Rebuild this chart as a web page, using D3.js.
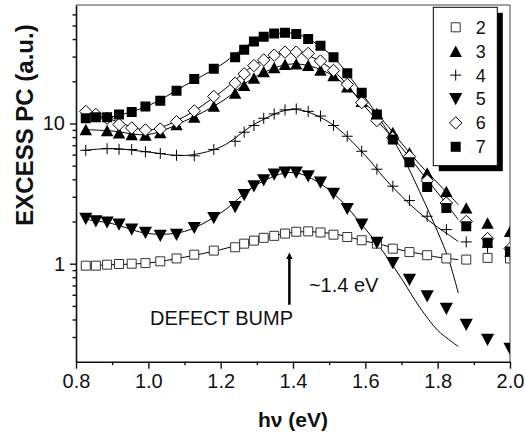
<!DOCTYPE html>
<html>
<head>
<meta charset="utf-8">
<script src="https://cdn.jsdelivr.net/npm/d3@7"></script>
<style>
  body { margin: 0; background: #fff; }
  text { font-family: "Liberation Sans", Arial, sans-serif; fill: #111; }
</style>
</head>
<body>
<div id="chart"></div>
<script>
// photon energy of each measured point (eV)
var energy = [0.827, 0.855, 0.886, 0.919, 0.954, 0.992, 1.033, 1.078, 1.127, 1.181,
  1.240, 1.265, 1.292, 1.319, 1.348, 1.378, 1.409, 1.442, 1.476, 1.512,
  1.550, 1.590, 1.632, 1.676, 1.722, 1.771, 1.824, 1.879, 1.938, 2.000];

// excess photocurrent (a.u.), one list per sample
var pc2 = [0.968, 0.968, 0.984, 0.995, 1.00, 1.01, 1.04, 1.09, 1.16, 1.24,
  1.31, 1.39, 1.46, 1.53, 1.58, 1.64, 1.69, 1.70, 1.67, 1.61,
  1.55, 1.47, 1.39, 1.28, 1.21, 1.15, 1.09, 1.07, 1.10, 1.09];
var pc3 = [9.06, null, 8.91, 8.58, 8.35, 8.27, 8.62, 9.84, 11.1, 13.3,
  16.5, 18.7, 21.1, 23.5, 25.1, 26.4, 26.6, 26.0, 24.1, 22.0,
  18.3, 14.4, 11.8, 8.62, 6.18, 4.44, 3.28, 2.50, 1.95, 1.70];
var pc4 = [6.44, null, 6.61, 6.55, 6.52, 6.29, 6.11, 5.93, 5.88, 6.52,
  7.47, 8.67, 9.68, 10.9, 11.7, 12.5, 12.7, 12.2, 11.3, 9.68,
  8.11, 6.34, 4.72, 3.57, 2.82, 2.18, 1.75, 1.43, 1.31, 1.13];
var pc5 = [2.09, 2.01, 1.97, 1.90, 1.75, 1.66, 1.58, 1.61, 1.80, 2.12,
  2.54, 3.09, 3.57, 3.93, 4.32, 4.47, 4.47, 4.20, 3.79, 3.16,
  2.46, 1.90, 1.41, 1.01, 0.769, 0.586, 0.477, 0.367, 0.287, 0.247];
var pc6 = [12.2, 11.6, 10.9, 9.84, 9.29, 8.99, 9.13, 10.3, 12.3, 15.6,
  19.4, 22.6, 25.9, 28.4, 30.7, 32.3, 32.3, 31.6, 27.9, 23.9,
  19.0, 14.1, 10.5, 7.91, 5.81, 3.92, 2.71, 2.00, 1.51, 1.28];
var pc7 = [10.9, 11.1, 11.1, 11.6, 12.1, 13.2, 14.5, 17.1, 20.8, 24.6,
  29.7, 33.5, 38.4, 41.5, 43.8, 44.4, 43.5, 40.1, 35.9, 29.7,
  22.8, 16.6, 11.6, 7.69, 5.29, 3.53, 2.50, 1.85, 1.41, 1.22];

var fitEnergy = [0.82, 0.90, 1.00, 1.10, 1.20, 1.30, 1.40, 1.50, 1.60, 1.65, 1.70, 1.75, 1.80, 1.83, 1.857];
var fit2 = [0.968, 0.984, 1.012, 1.113, 1.259, 1.472, 1.674, 1.651, 1.448, 1.356, 1.249, 1.179, 1.113, 1.09, 1.068];
var fit3 = [9.06, 8.84, 8.35, 10.4, 14.2, 21.8, 26.6, 22.7, 13.8, 10.4, 7.24, 5.12, 3.76, 3.13, 2.64];
var fit4 = [6.42, 6.63, 6.26, 5.91, 6.80, 10.1, 12.6, 10.2, 5.91, 4.15, 3.03, 2.30, 1.82, 1.61, 1.44];
var fit5 = [2.08, 1.93, 1.64, 1.70, 2.30, 3.67, 4.47, 3.36, 1.77, 1.21, 0.783, 0.490, 0.335, 0.289, 0.257];
var fit6 = [12.2, 10.6, 8.99, 11.2, 16.7, 26.7, 32.3, 25.2, 13.1, 9.35, 6.74, 4.64, 3.20, 2.55, 2.06];
var fit7 = [10.9, 11.2, 13.4, 18.6, 26.1, 39.3, 44.0, 31.6, 15.2, 9.81, 6.04, 3.27, 1.69, 1.08, 0.618];

var sampleNames = ["2", "3", "4", "5", "6", "7"];
var markerKinds = ["openSquare", "triUp", "plus", "triDown", "openDiamond", "square"];

var xMajorTicks = [0.8, 1.0, 1.2, 1.4, 1.6, 1.8, 2.0];
var xMinorTicks = [0.9, 1.1, 1.3, 1.5, 1.7, 1.9];
var yMajorTicks = [1, 10];
var yMinorTicks = [0.3, 0.4, 0.5, 0.6, 0.7, 0.8, 0.9, 2, 3, 4, 5, 6, 7, 8, 9, 20, 30, 40, 50, 60];

var series = [pc2, pc3, pc4, pc5, pc6, pc7];
var fits = [fit2, fit3, fit4, fit5, fit6, fit7];

var margin = {top: 5, right: 16, bottom: 74.3, left: 76};
var width = 526 - margin.left - margin.right;
var height = 436 - margin.top - margin.bottom;

var root = d3.select("#chart").append("svg")
  .attr("width", 526)
  .attr("height", 436);

root.append("rect").attr("width", 526).attr("height", 436).attr("fill", "#fff");

var svg = root.append("g")
  .attr("transform", "translate(" + margin.left + "," + margin.top + ")");

var x = d3.scaleLinear().domain([0.8, 2.0]).range([0, width]);
var y = d3.scaleLog().domain([0.2, 70]).range([height, 0]);

// marker outlines, centred on the point
function markerPath(kind) {
  switch (kind) {
    case "openSquare": return "M-4.5,-4.5H4.5V4.5H-4.5Z";
    case "square": return "M-5,-5H5V5H-5Z";
    case "triUp": return "M0,-5.7L6.2,5.7H-6.2Z";
    case "triDown": return "M0,6.2L6.6,-6H-6.6Z";
    case "openDiamond": return "M0,-6.2L6.2,0L0,6.2L-6.2,0Z";
    case "plus": return "M-5.5,0H5.5M0,-5.5V5.5";
  }
}
function markerFill(kind) {
  if (kind == "openSquare" || kind == "openDiamond") return "#fff";
  if (kind == "plus") return "none";
  return "#000";
}
function markerStroke(kind) {
  if (kind == "openSquare") return "#333";
  if (kind == "square" || kind == "triUp" || kind == "triDown") return "none";
  return "#000";
}

// frame (top and right)
svg.append("path")
  .attr("d", "M0,0H" + width + "V" + height)
  .attr("fill", "none")
  .attr("stroke", "#444")
  .attr("stroke-width", 1);

svg.append("defs").append("clipPath").attr("id", "plotclip")
  .append("rect").attr("width", width).attr("height", height);

var plot = svg.append("g").attr("clip-path", "url(#plotclip)");

// fitted curves
var fitLine = d3.line()
  .x(function(d) { return x(d[0]); })
  .y(function(d) { return y(d[1]); })
  .curve(d3.curveCatmullRom.alpha(0.5));

fits.forEach(function(f) {
  plot.append("path")
    .datum(fitEnergy.map(function(e, i) { return [e, f[i]]; }))
    .attr("d", fitLine)
    .attr("fill", "none")
    .attr("stroke", "#000")
    .attr("stroke-width", 1);
});

// measured points
series.forEach(function(s, k) {
  var kind = markerKinds[k];
  var pts = energy.map(function(e, i) { return [e, s[i]]; })
    .filter(function(d) { return d[1] != null; });
  plot.append("g").selectAll("path")
    .data(pts)
    .enter()
    .append("path")
      .attr("transform", function(d) { return "translate(" + x(d[0]) + "," + y(d[1]) + ")"; })
      .attr("d", markerPath(kind))
      .attr("fill", markerFill(kind))
      .attr("stroke", markerStroke(kind))
      .attr("stroke-width", 1);
});

// axes
var xAxis = svg.append("g").attr("transform", "translate(0," + height + ")");
xAxis.call(d3.axisBottom(x).tickValues(xMajorTicks).tickFormat(d3.format(".1f"))
  .tickSize(7).tickSizeOuter(0).tickPadding(5));
svg.append("g").attr("transform", "translate(0," + height + ")")
  .call(d3.axisBottom(x).tickValues(xMinorTicks).tickFormat("").tickSize(3.5).tickSizeOuter(0))
  .select(".domain").remove();

var yAxis = svg.append("g");
yAxis.call(d3.axisLeft(y).tickValues(yMajorTicks).tickFormat(d3.format("d"))
  .tickSize(6).tickSizeOuter(0).tickPadding(5));
svg.append("g")
  .call(d3.axisLeft(y).tickValues(yMinorTicks).tickFormat("").tickSize(3.5).tickSizeOuter(0))
  .select(".domain").remove();

svg.selectAll(".domain").attr("stroke", "#111").attr("stroke-width", 1.6);
svg.selectAll(".tick line").attr("stroke", "#111").attr("stroke-width", 1.4);
svg.selectAll(".tick text")
  .style("font-family", "'Liberation Sans', Arial, sans-serif")
  .style("font-size", "20px")
  .attr("fill", "#111");

// axis titles
svg.append("text")
  .attr("x", x(1.4))
  .attr("y", height + 65)
  .attr("text-anchor", "middle")
  .style("font-size", "21px")
  .style("font-weight", "bold")
  .text("hν (eV)");

svg.append("text")
  .attr("transform", "translate(" + (25 - margin.left + 8) + "," + 120 + ") rotate(-90)")
  .attr("text-anchor", "middle")
  .style("font-size", "24px")
  .style("font-weight", "bold")
  .text("EXCESS PC (a.u.)");

// defect bump annotation
svg.append("line")
  .attr("x1", x(1.39)).attr("x2", x(1.39))
  .attr("y1", y(0.51)).attr("y2", y(1.08))
  .attr("stroke", "#000").attr("stroke-width", 2.5);
svg.append("path")
  .attr("d", "M" + (x(1.39) - 3.2) + "," + y(1.08) + "L" + x(1.39) + "," + y(1.20) + "L" + (x(1.39) + 3.2) + "," + y(1.08) + "Z")
  .attr("fill", "#000");

svg.append("text")
  .attr("x", x(1.40))
  .attr("y", y(0.367))
  .attr("text-anchor", "end")
  .style("font-size", "20px")
  .text("DEFECT BUMP");

svg.append("text")
  .attr("x", x(1.444))
  .attr("y", y(0.631))
  .style("font-size", "20px")
  .text("~1.4 eV");

// legend with drop shadow
var legend = root.append("g").attr("transform", "translate(433.3,7.3)");
legend.append("rect").attr("x", 5.5).attr("y", 5.5).attr("width", 64).attr("height", 158.4).attr("fill", "#000");
legend.append("rect").attr("width", 64).attr("height", 158.4).attr("fill", "#fff")
  .attr("stroke", "#000").attr("stroke-width", 1);

var rows = legend.selectAll("g.row")
  .data(sampleNames)
  .enter()
  .append("g")
    .attr("class", "row")
    .attr("transform", function(d, i) { return "translate(0," + (20 + i * 23.9) + ")"; });

rows.append("path")
  .attr("transform", "translate(22.4,0)")
  .attr("d", function(d, i) { return markerPath(markerKinds[i]); })
  .attr("fill", function(d, i) { return markerFill(markerKinds[i]); })
  .attr("stroke", function(d, i) { return markerStroke(markerKinds[i]); })
  .attr("stroke-width", 1);

rows.append("text")
  .attr("x", 42.5)
  .attr("dy", "0.36em")
  .style("font-size", "18px")
  .text(function(d) { return d; });
</script>
</body>
</html>
